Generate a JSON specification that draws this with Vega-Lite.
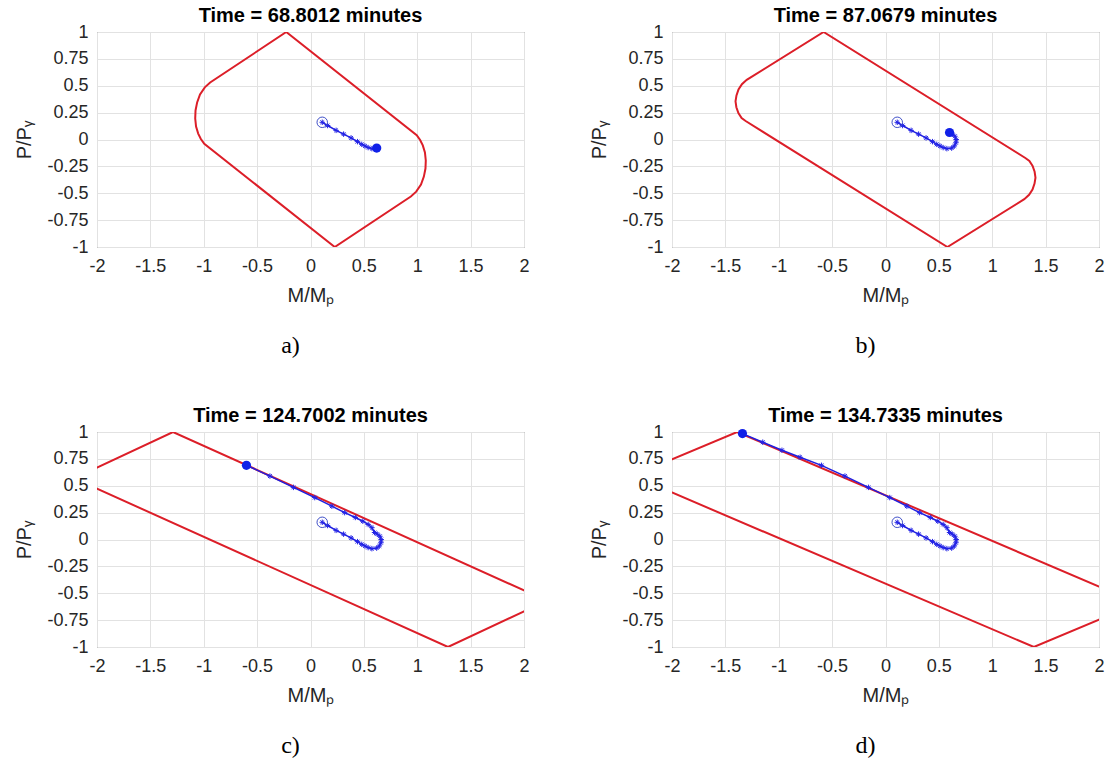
{
  "$schema": "https://vega.github.io/schema/vega-lite/v6.json",
  "background": "white",
  "padding": {"left": 14, "top": 5, "right": 5, "bottom": 2},
  "datasets": {
    "surf": [
      {"panel":"a","k":0,"M":-0.227,"P":1.0},{"panel":"a","k":1,"M":-0.94,"P":0.53},{"panel":"a","k":2,"M":-0.99,"P":0.485},{"panel":"a","k":3,"M":-1.035,"P":0.42},{"panel":"a","k":4,"M":-1.062,"P":0.345},{"panel":"a","k":5,"M":-1.077,"P":0.27},{"panel":"a","k":6,"M":-1.08,"P":0.195},{"panel":"a","k":7,"M":-1.072,"P":0.12},{"panel":"a","k":8,"M":-1.052,"P":0.055},{"panel":"a","k":9,"M":-1.027,"P":0.005},{"panel":"a","k":10,"M":-0.995,"P":-0.04},{"panel":"a","k":11,"M":0.227,"P":-1.0},{"panel":"a","k":12,"M":0.94,"P":-0.53},{"panel":"a","k":13,"M":0.99,"P":-0.485},{"panel":"a","k":14,"M":1.035,"P":-0.42},{"panel":"a","k":15,"M":1.062,"P":-0.345},{"panel":"a","k":16,"M":1.077,"P":-0.27},{"panel":"a","k":17,"M":1.08,"P":-0.195},{"panel":"a","k":18,"M":1.072,"P":-0.12},{"panel":"a","k":19,"M":1.052,"P":-0.055},{"panel":"a","k":20,"M":1.027,"P":-0.005},{"panel":"a","k":21,"M":0.995,"P":0.04},{"panel":"a","k":22,"M":-0.227,"P":1.0},
      {"panel":"b","k":0,"M":-0.58,"P":1.0},{"panel":"b","k":1,"M":-1.30,"P":0.555},{"panel":"b","k":2,"M":-1.345,"P":0.515},{"panel":"b","k":3,"M":-1.377,"P":0.465},{"panel":"b","k":4,"M":-1.396,"P":0.41},{"panel":"b","k":5,"M":-1.405,"P":0.355},{"panel":"b","k":6,"M":-1.397,"P":0.30},{"panel":"b","k":7,"M":-1.378,"P":0.245},{"panel":"b","k":8,"M":-1.348,"P":0.2},{"panel":"b","k":9,"M":-1.31,"P":0.172},{"panel":"b","k":10,"M":0.58,"P":-1.0},{"panel":"b","k":11,"M":1.30,"P":-0.555},{"panel":"b","k":12,"M":1.345,"P":-0.515},{"panel":"b","k":13,"M":1.377,"P":-0.465},{"panel":"b","k":14,"M":1.396,"P":-0.41},{"panel":"b","k":15,"M":1.405,"P":-0.355},{"panel":"b","k":16,"M":1.397,"P":-0.30},{"panel":"b","k":17,"M":1.378,"P":-0.245},{"panel":"b","k":18,"M":1.348,"P":-0.2},{"panel":"b","k":19,"M":1.31,"P":-0.172},{"panel":"b","k":20,"M":-0.58,"P":1.0},
      {"panel":"c","k":0,"M":-1.288,"P":1.0},{"panel":"c","k":1,"M":-2.0,"P":0.668},{"panel":"c","k":2,"M":-2.213,"P":0.569},{"panel":"c","k":3,"M":-2.0,"P":0.473},{"panel":"c","k":4,"M":1.288,"P":-1.0},{"panel":"c","k":5,"M":2.0,"P":-0.668},{"panel":"c","k":6,"M":2.213,"P":-0.569},{"panel":"c","k":7,"M":2.0,"P":-0.473},{"panel":"c","k":8,"M":-1.288,"P":1.0},
      {"panel":"d","k":0,"M":-1.39,"P":1.0},{"panel":"d","k":1,"M":-2.0,"P":0.745},{"panel":"d","k":2,"M":-2.35,"P":0.59},{"panel":"d","k":3,"M":-2.0,"P":0.437},{"panel":"d","k":4,"M":1.39,"P":-1.0},{"panel":"d","k":5,"M":2.0,"P":-0.745},{"panel":"d","k":6,"M":2.35,"P":-0.59},{"panel":"d","k":7,"M":2.0,"P":-0.437},{"panel":"d","k":8,"M":-1.39,"P":1.0}
    ],
    "traj": [
      {"i":0,"M":0.11,"P":0.16},{"i":1,"M":0.16,"P":0.13},{"i":2,"M":0.24,"P":0.085},{"i":3,"M":0.31,"P":0.05},{"i":4,"M":0.38,"P":0.015},{"i":5,"M":0.44,"P":-0.02},{"i":6,"M":0.48,"P":-0.045},{"i":7,"M":0.51,"P":-0.06},{"i":8,"M":0.54,"P":-0.075},{"i":9,"M":0.575,"P":-0.085},{"i":10,"M":0.62,"P":-0.08},
      {"i":11,"M":0.645,"P":-0.06},{"i":12,"M":0.66,"P":-0.03},{"i":13,"M":0.662,"P":0.0},{"i":14,"M":0.65,"P":0.03},{"i":15,"M":0.625,"P":0.05},{"i":16,"M":0.60,"P":0.065},
      {"i":17,"M":0.575,"P":0.11},{"i":18,"M":0.54,"P":0.14},{"i":19,"M":0.49,"P":0.17},{"i":20,"M":0.42,"P":0.205},{"i":21,"M":0.32,"P":0.25},{"i":22,"M":0.20,"P":0.31},{"i":23,"M":0.04,"P":0.39},{"i":24,"M":-0.16,"P":0.485},{"i":25,"M":-0.38,"P":0.59},{"i":26,"M":-0.60,"P":0.69},
      {"i":27,"M":-0.80,"P":0.765},{"i":28,"M":-0.97,"P":0.83},{"i":29,"M":-1.15,"P":0.905},{"i":30,"M":-1.34,"P":0.985}
    ]
  },
  "concat": [
    {
      "width": 427, "height": 215,
      "title": "Time = 68.8012 minutes",
      "encoding": {
        "x": {"field":"M","type":"quantitative","scale":{"domain":[-2,2],"nice":false,"zero":false},"axis":{"title":"M/Mₚ","values":[-2,-1.5,-1,-0.5,0,0.5,1,1.5,2],"labelExpr":"'' + datum.value"}},
        "y": {"field":"P","type":"quantitative","scale":{"domain":[-1,1],"nice":false,"zero":false},"axis":{"title":"P/Pᵧ","values":[-1,-0.75,-0.5,-0.25,0,0.25,0.5,0.75,1],"labelExpr":"'' + datum.value"}}
      },
      "layer": [
        {"data":{"name":"surf"},"transform":[{"filter":"datum.panel == 'a'"}],"mark":{"type":"line","clip":true,"color":"#dc1e28","strokeWidth":2},"encoding":{"order":{"field":"k","type":"quantitative"}}},
        {"data":{"name":"traj"},"transform":[{"filter":"datum.i <= 10"}],"mark":{"type":"line","color":"#1f1fe0","strokeWidth":1.5},"encoding":{"order":{"field":"i","type":"quantitative"}}},
        {"data":{"name":"traj"},"transform":[{"filter":"datum.i <= 10"}],"mark":{"type":"point","shape":"M-1,0L1,0M0,-1L0,1M-0.7,-0.7L0.7,0.7M-0.7,0.7L0.7,-0.7","filled":false,"size":30,"strokeWidth":1,"color":"#2323e6","opacity":1},"encoding":{}},
        {"data":{"name":"traj"},"transform":[{"filter":"datum.i == 0"}],"mark":{"type":"point","shape":"circle","filled":false,"size":110,"strokeWidth":1,"color":"#4050c8","opacity":1},"encoding":{}},
        {"data":{"name":"traj"},"transform":[{"filter":"datum.i == 10"}],"mark":{"type":"point","shape":"circle","filled":true,"size":85,"color":"#1020e8","opacity":1},"encoding":{}}
      ]
    },
    {
      "width": 427, "height": 215,
      "title": "Time = 87.0679 minutes",
      "encoding": {
        "x": {"field":"M","type":"quantitative","scale":{"domain":[-2,2],"nice":false,"zero":false},"axis":{"title":"M/Mₚ","values":[-2,-1.5,-1,-0.5,0,0.5,1,1.5,2],"labelExpr":"'' + datum.value"}},
        "y": {"field":"P","type":"quantitative","scale":{"domain":[-1,1],"nice":false,"zero":false},"axis":{"title":"P/Pᵧ","values":[-1,-0.75,-0.5,-0.25,0,0.25,0.5,0.75,1],"labelExpr":"'' + datum.value"}}
      },
      "layer": [
        {"data":{"name":"surf"},"transform":[{"filter":"datum.panel == 'b'"}],"mark":{"type":"line","clip":true,"color":"#dc1e28","strokeWidth":2},"encoding":{"order":{"field":"k","type":"quantitative"}}},
        {"data":{"name":"traj"},"transform":[{"filter":"datum.i <= 16"}],"mark":{"type":"line","color":"#1f1fe0","strokeWidth":1.5},"encoding":{"order":{"field":"i","type":"quantitative"}}},
        {"data":{"name":"traj"},"transform":[{"filter":"datum.i <= 16"}],"mark":{"type":"point","shape":"M-1,0L1,0M0,-1L0,1M-0.7,-0.7L0.7,0.7M-0.7,0.7L0.7,-0.7","filled":false,"size":30,"strokeWidth":1,"color":"#2323e6","opacity":1},"encoding":{}},
        {"data":{"name":"traj"},"transform":[{"filter":"datum.i == 0"}],"mark":{"type":"point","shape":"circle","filled":false,"size":110,"strokeWidth":1,"color":"#4050c8","opacity":1},"encoding":{}},
        {"data":{"name":"traj"},"transform":[{"filter":"datum.i == 16"}],"mark":{"type":"point","shape":"circle","filled":true,"size":85,"color":"#1020e8","opacity":1},"encoding":{}}
      ]
    },
    {"width":427,"height":30,"view":{"stroke":null},"data":{"values":[{"lab":"a)"}]},"mark":{"type":"text","font":"Liberation Serif","fontSize":24,"dx":-20,"dy":6,"color":"#000"},"encoding":{"text":{"field":"lab"}}},
    {"width":427,"height":30,"view":{"stroke":null},"data":{"values":[{"lab":"b)"}]},"mark":{"type":"text","font":"Liberation Serif","fontSize":24,"dx":-20,"dy":6,"color":"#000"},"encoding":{"text":{"field":"lab"}}},
    {
      "width": 427, "height": 215,
      "title": "Time = 124.7002 minutes",
      "encoding": {
        "x": {"field":"M","type":"quantitative","scale":{"domain":[-2,2],"nice":false,"zero":false},"axis":{"title":"M/Mₚ","values":[-2,-1.5,-1,-0.5,0,0.5,1,1.5,2],"labelExpr":"'' + datum.value"}},
        "y": {"field":"P","type":"quantitative","scale":{"domain":[-1,1],"nice":false,"zero":false},"axis":{"title":"P/Pᵧ","values":[-1,-0.75,-0.5,-0.25,0,0.25,0.5,0.75,1],"labelExpr":"'' + datum.value"}}
      },
      "layer": [
        {"data":{"name":"surf"},"transform":[{"filter":"datum.panel == 'c'"}],"mark":{"type":"line","clip":true,"color":"#dc1e28","strokeWidth":2},"encoding":{"order":{"field":"k","type":"quantitative"}}},
        {"data":{"name":"traj"},"transform":[{"filter":"datum.i <= 26"}],"mark":{"type":"line","color":"#1f1fe0","strokeWidth":1.5},"encoding":{"order":{"field":"i","type":"quantitative"}}},
        {"data":{"name":"traj"},"transform":[{"filter":"datum.i <= 26"}],"mark":{"type":"point","shape":"M-1,0L1,0M0,-1L0,1M-0.7,-0.7L0.7,0.7M-0.7,0.7L0.7,-0.7","filled":false,"size":30,"strokeWidth":1,"color":"#2323e6","opacity":1},"encoding":{}},
        {"data":{"name":"traj"},"transform":[{"filter":"datum.i == 0"}],"mark":{"type":"point","shape":"circle","filled":false,"size":110,"strokeWidth":1,"color":"#4050c8","opacity":1},"encoding":{}},
        {"data":{"name":"traj"},"transform":[{"filter":"datum.i == 26"}],"mark":{"type":"point","shape":"circle","filled":true,"size":85,"color":"#1020e8","opacity":1},"encoding":{}}
      ]
    },
    {
      "width": 427, "height": 215,
      "title": "Time = 134.7335 minutes",
      "encoding": {
        "x": {"field":"M","type":"quantitative","scale":{"domain":[-2,2],"nice":false,"zero":false},"axis":{"title":"M/Mₚ","values":[-2,-1.5,-1,-0.5,0,0.5,1,1.5,2],"labelExpr":"'' + datum.value"}},
        "y": {"field":"P","type":"quantitative","scale":{"domain":[-1,1],"nice":false,"zero":false},"axis":{"title":"P/Pᵧ","values":[-1,-0.75,-0.5,-0.25,0,0.25,0.5,0.75,1],"labelExpr":"'' + datum.value"}}
      },
      "layer": [
        {"data":{"name":"surf"},"transform":[{"filter":"datum.panel == 'd'"}],"mark":{"type":"line","clip":true,"color":"#dc1e28","strokeWidth":2},"encoding":{"order":{"field":"k","type":"quantitative"}}},
        {"data":{"name":"traj"},"transform":[{"filter":"datum.i <= 30"}],"mark":{"type":"line","color":"#1f1fe0","strokeWidth":1.5},"encoding":{"order":{"field":"i","type":"quantitative"}}},
        {"data":{"name":"traj"},"transform":[{"filter":"datum.i <= 30"}],"mark":{"type":"point","shape":"M-1,0L1,0M0,-1L0,1M-0.7,-0.7L0.7,0.7M-0.7,0.7L0.7,-0.7","filled":false,"size":30,"strokeWidth":1,"color":"#2323e6","opacity":1},"encoding":{}},
        {"data":{"name":"traj"},"transform":[{"filter":"datum.i == 0"}],"mark":{"type":"point","shape":"circle","filled":false,"size":110,"strokeWidth":1,"color":"#4050c8","opacity":1},"encoding":{}},
        {"data":{"name":"traj"},"transform":[{"filter":"datum.i == 30"}],"mark":{"type":"point","shape":"circle","filled":true,"size":85,"color":"#1020e8","opacity":1},"encoding":{}}
      ]
    },
    {"width":427,"height":30,"view":{"stroke":null},"data":{"values":[{"lab":"c)"}]},"mark":{"type":"text","font":"Liberation Serif","fontSize":24,"dx":-20,"dy":6,"color":"#000"},"encoding":{"text":{"field":"lab"}}},
    {"width":427,"height":30,"view":{"stroke":null},"data":{"values":[{"lab":"d)"}]},"mark":{"type":"text","font":"Liberation Serif","fontSize":24,"dx":-20,"dy":6,"color":"#000"},"encoding":{"text":{"field":"lab"}}}
  ],
  "columns": 2,
  "spacing": {"row": 77.5, "column": 148},
  "bounds": "flush",
  "config": {
    "font": "Liberation Sans",
    "view": {"stroke": "#5a5a5a", "strokeWidth": 1},
    "axis": {"grid": true, "gridColor": "#e2e2e2", "gridWidth": 1, "domain": false, "ticks": false, "labelFont": "Liberation Sans", "labelFontSize": 18, "labelColor": "#262626", "labelFlush": false, "labelOverlap": false, "titleFont": "Liberation Sans", "titleFontSize": 20, "titleFontWeight": "normal", "titleColor": "#262626"},
    "axisX": {"labelPadding": 10, "titlePadding": 10},
    "axisY": {"labelPadding": 9, "titlePadding": 12},
    "title": {"font": "Liberation Sans", "fontSize": 20, "fontWeight": "bold", "color": "#000000", "anchor": "middle", "baseline": "bottom", "offset": -3}
  }
}
